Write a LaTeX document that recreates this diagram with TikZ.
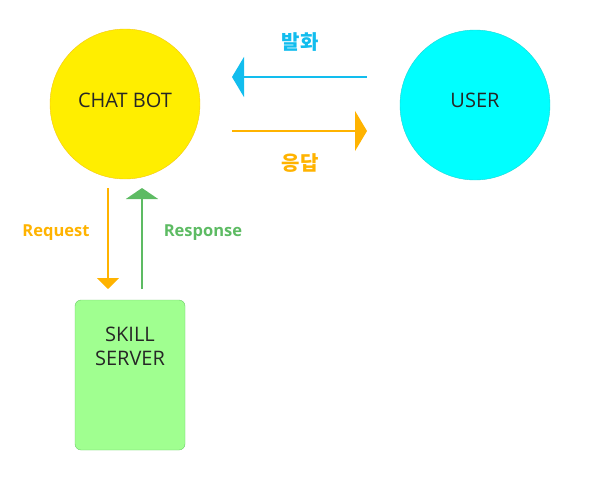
\documentclass[tikz,border=0pt]{standalone}
\usepackage{fontspec}
\setmainfont{Open Sans}
\newfontfamily\kr{Noto Sans CJK KR}
\usetikzlibrary{arrows.meta}
\definecolor{botfill}{HTML}{FFEE00}
\definecolor{botline}{HTML}{F5C518}
\definecolor{userfill}{HTML}{00FFFF}
\definecolor{userline}{HTML}{1ED5D5}
\definecolor{skyb}{HTML}{12BDEE}
\definecolor{orng}{HTML}{FFB300}
\definecolor{grn}{HTML}{5DBB63}
\definecolor{srvfill}{HTML}{A0FF90}
\definecolor{srvline}{HTML}{6CCB6A}
\tikzset{
  x=1pt,y=-1pt,
  circ/.style={circle,minimum size=150pt,inner sep=0pt},
  ctext/.style={font=\fontsize{20}{24}\selectfont,text=black!85,align=center},
  lbl/.style={font=\fontsize{16.5}{20}\selectfont\bfseries},
  krlbl/.style={font=\kr\fontsize{20}{24}\selectfont\bfseries},
  conn/.style={line width=2pt},
}
\begin{document}
\begin{tikzpicture}
\useasboundingbox (0,0) rectangle (600,480);
\node[circ,fill=botfill,draw=botline] (bot) at (125,104) {};
\node[ctext] (bott) at (125,100) {CHAT BOT};
\node[circ,fill=userfill,draw=userline] (user) at (475,105) {};
\node[ctext] (usert) at (475,100) {USER};
\node[draw=srvline,fill=srvfill,rounded corners=6pt,minimum width=110pt,minimum height=150pt,inner sep=0pt] (srv) at (130,375) {};
\node[ctext,font=\fontsize{20}{24}\selectfont] (srvt) at (130,346) {SKILL\\SERVER};
% horizontal
\coordinate (a1s) at (367,77); \coordinate (a1e) at (232,77);
\coordinate (a2s) at (232,131); \coordinate (a2e) at (367,131);
\draw[conn,skyb,-{Triangle[length=12pt,width=40pt]}] (a1s) -- (a1e);
\draw[conn,orng,-{Triangle[length=12pt,width=40pt]}] (a2s) -- (a2e);
\node[krlbl,text=skyb] (hw) at (300,42) {발화};
\node[krlbl,text=orng] (ed) at (300,163) {응답};
% vertical
\coordinate (r1s) at (108,188); \coordinate (r1e) at (108,289);
\coordinate (r2s) at (142,289); \coordinate (r2e) at (142,188);
\draw[conn,orng,-{Triangle[length=11pt,width=22pt]}] (r1s) -- (r1e);
\draw[conn,grn,-{Triangle[length=11pt,width=32pt]}] (r2s) -- (r2e);
\node[lbl,text=orng] (req) at (56,233) {Request};
\node[lbl,text=grn] (res) at (203,233) {Response};
\end{tikzpicture}
\end{document}
